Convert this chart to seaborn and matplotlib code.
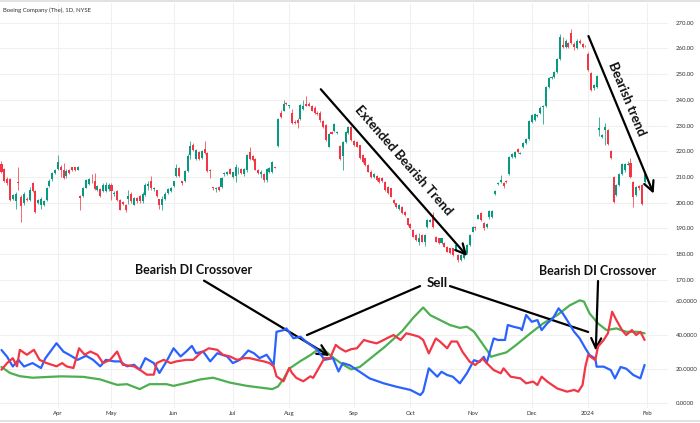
import numpy as np
import pandas as pd
import matplotlib
matplotlib.use("Agg")
import matplotlib.pyplot as plt
from matplotlib.lines import Line2D
import seaborn as sns

# ---------------- data ----------------
title = "Boeing Company (The), 1D, NYSE"
start_date, end_date = "2023-03-06", "2024-02-01"
market_holidays = ["2023-04-07", "2023-05-29", "2023-06-19", "2023-07-04", "2023-09-04",
                   "2023-11-23", "2023-12-25", "2024-01-01", "2024-01-15"]
month_labels = ["Apr", "May", "Jun", "Jul", "Aug", "Sep", "Oct", "Nov", "Dec", "2024", "Feb"]

opens = [215, 213, 209, 209, 201.5, 200.5, 208, 202, 200, 201.5, 201, 207.5, 204.5, 200, 199, 199, 201, 206.5, 209, 211.5,
         213, 214, 212.6, 210.3, 212.5, 213.8, 213.8, 212.8, 202.7, 202.5, 205.7, 207.4, 208, 208.3, 204.8, 205.1, 204.5, 204.4, 205.1, 207,
         203.5, 204.4, 201.2, 200.2, 199.2, 201.4, 203.5, 199.2, 201.8, 202.7, 200.5, 203.1, 206.4, 208.3, 205.1, 204.8, 201.4, 199.2, 201.4, 203.8,
         204.4, 206.6, 210.3, 213.5, 208.3, 208.3, 212.2, 218.5, 222.6, 217, 219.6, 217.3, 220.9, 219.4, 212.6, 205.8, 205.3, 206, 206, 211,
         211, 213.1, 210, 210.5, 212.5, 213, 211, 212.5, 219.6, 218.3, 217, 212.5, 211, 211.2, 208.6, 211.8, 211.8, 213.8, 222, 235,
         235.8, 238.7, 237.5, 234.8, 231.5, 232.3, 232.6, 236.5, 238.4, 238.4, 237.7, 237, 235, 235, 231.6, 230, 221.8, 227.4, 227.8, 227,
         222.2, 218.3, 223.5, 227, 229.4, 223.8, 223.6, 222.3, 218.4, 217.2, 214.6, 212, 209.8, 210.3, 209.4, 209.7, 208.1, 206.2, 205.5, 201,
         199.7, 197.4, 198.4, 196.5, 193.9, 191.7, 189.3, 187.4, 184.8, 187.4, 184.8, 190.4, 192.6, 195.2, 186.8, 186.1, 184.2, 184.2, 182.9, 182.2,
         182.2, 181.6, 179.6, 177.7, 178.4, 180.3, 183.5, 188.7, 190.4, 193.8, 196, 192, 190.6, 194.4, 194.4, 203.2, 207.3, 208, 207.6, 208.4,
         211, 217.8, 217.8, 221, 219.1, 221.7, 223.2, 224.9, 231.4, 232, 233.8, 234.7, 237.3, 237.5, 245, 248.3, 249, 250.9, 256, 261.5,
         260.6, 262, 266, 261.9, 260, 263, 261.7, 261, 258, 250.3, 244.4, 245, 228.2, 225.6, 228.2, 228.2, 220.1, 210, 203, 206.8,
         211.3, 212.5, 214.8, 215.5, 208, 203, 206.5, 206.8, 208]
highs = [216, 213.5, 210, 209.5, 203.5, 204, 214, 203, 204, 202, 206, 208, 205, 201.5, 202, 201, 206, 209, 212, 213,
         218.5, 214.5, 215.5, 213, 213, 214, 214, 214.2, 203, 206, 209, 209.5, 211, 211.5, 207, 205.5, 207.5, 208, 207.5, 207.5,
         204.5, 205, 201.5, 200.5, 199.5, 204.8, 204, 202, 202, 203, 204, 207.5, 208.5, 210.5, 206, 205, 201.5, 202.5, 204, 205.5,
         206, 208.5, 215, 214, 208.5, 212.5, 219, 223.9, 223, 221, 220, 220.5, 223.9, 219.5, 213, 206, 206, 206.5, 210, 212,
         212.2, 213.5, 212, 215, 214, 213.5, 213.5, 219, 221.5, 218.5, 217.5, 213, 212.5, 211.5, 213.5, 214, 216, 214, 233, 236,
         240, 239, 238, 236.5, 232, 233, 238.5, 240, 241.3, 239, 238, 237.5, 235.5, 235.5, 232, 230.5, 227, 228, 231, 228,
         222.5, 224, 228, 229.8, 230, 224.4, 224, 222.5, 218.8, 217.5, 215, 212.5, 211.6, 210.6, 209.8, 210, 208.4, 206.5, 205.8, 201.3,
         200, 199.3, 198.7, 196.8, 194.2, 192, 189.6, 187.7, 188, 187.7, 187.7, 193.5, 193.5, 196.5, 187.1, 186.4, 186.4, 184.5, 183.2, 182.5,
         182.5, 183.8, 179.9, 180, 180.6, 183.8, 187.7, 191, 191, 195.5, 196.3, 192.3, 192, 197, 197.2, 205, 208, 210.6, 208, 208.6,
         218, 219.3, 220, 221.4, 219.6, 223.6, 225.3, 232.2, 234.4, 234.8, 234.5, 237.5, 238, 245.4, 248.7, 249.2, 251.3, 256.4, 265.5, 264.5,
         263.8, 262.5, 267.7, 262.3, 263.5, 263.5, 262, 261.3, 258.5, 250.7, 246, 249.6, 233.5, 226.5, 231.1, 228.6, 220.5, 210.4, 207.2, 211.7,
         215.3, 215.4, 216, 217.5, 208.4, 206.5, 206.9, 207.2, 211.4]
lows = [211.5, 208, 207, 200.5, 201, 197.5, 205, 192.5, 199, 200.5, 200.5, 204, 196, 199.5, 197.5, 198.5, 200.5, 206, 208.5, 211,
        212.5, 210, 209, 209.5, 211, 212.3, 212.3, 212.5, 197.3, 202, 205.5, 207, 207.5, 204.8, 204.5, 202, 204, 204, 204.5, 201,
        202.5, 200.5, 197, 199, 196.5, 199.6, 200, 199, 200, 200, 200, 202.5, 205, 205, 204.5, 202, 197.5, 197.3, 201, 203.5,
        204, 206, 210, 210, 207, 208, 212, 217, 220, 216.5, 216.5, 217, 219, 212, 209.6, 205, 204, 204.5, 205.5, 210.5,
        210.8, 211, 209.7, 208, 211, 211, 210.5, 212, 216.5, 216, 212.5, 211, 209.5, 208, 208, 211.5, 211.5, 213.4, 221.8, 233,
        235.5, 238, 237, 230.5, 230.5, 229, 232, 236, 237.5, 237.5, 235.5, 234.5, 234, 231.5, 229, 224, 221.5, 226.5, 227.5, 226.5,
        216.5, 212.5, 223, 226.8, 224, 222, 221.5, 217, 215.5, 214.3, 211.8, 209.5, 209.5, 208.3, 207.8, 208.2, 204.6, 203.3, 202, 199.4,
        198, 197, 195.5, 194.9, 191, 189.7, 186.5, 185.2, 183.5, 184.5, 183.1, 190, 192.3, 190.3, 184.5, 183.9, 183.9, 182.6, 180.6, 180,
        179.3, 181.3, 177, 177.4, 178.1, 180, 183.2, 188.4, 189.5, 193.5, 192.8, 189.5, 190.3, 193.7, 194, 202.9, 207, 207.8, 205.5, 207.8,
        210.7, 217.4, 217.3, 219.2, 218.8, 221.3, 222.8, 224.5, 231, 231.6, 233.5, 234.3, 230.5, 237.1, 244.6, 247.9, 248.6, 250.5, 255.6, 260.2,
        260.3, 260.2, 261.6, 259.5, 259.6, 261.6, 260.2, 260.5, 251.2, 243.4, 244, 244.6, 226, 225.2, 222.6, 222.3, 217.1, 199.9, 202.6, 206.4,
        210.9, 212.1, 214.5, 209.6, 198.3, 202.6, 205, 199.2, 207.6]
closes = [212, 208.5, 207.5, 201, 203, 203.5, 207.8, 198.5, 203.5, 201, 205, 204.5, 196.5, 201, 201.5, 200.5, 205.5, 208.5, 211.5, 212.5,
          215.7, 212.8, 209.6, 212.2, 211.6, 212.6, 212.6, 213.9, 201.8, 205.7, 208.7, 209, 207.9, 205.1, 206.4, 202.5, 207, 207, 207, 204.4,
          203.8, 201.2, 197.3, 199.6, 197, 202.7, 200.5, 201.8, 200.5, 200.5, 203.5, 207, 207.4, 205.7, 205.7, 202.5, 199.2, 201.4, 203.5, 205.1,
          205.7, 208.3, 213.5, 210.3, 207.7, 212.2, 218.3, 222, 220.6, 220.6, 217, 220, 219.4, 212.3, 212.4, 205.6, 205.7, 204.8, 209.6, 211.6,
          211.9, 211.3, 211.8, 213.8, 212.5, 211.5, 213.2, 218.7, 217, 216.4, 212.7, 211.5, 211.8, 208.6, 213.2, 213.5, 215.7, 213.6, 232.6, 233.5,
          238.4, 238.5, 237.7, 231, 230.8, 230.8, 238, 237.7, 237.7, 237.7, 235.8, 235, 234.4, 232, 229.6, 224.4, 226.8, 226.8, 230.4, 227.5,
          217, 223.5, 227.4, 229.4, 224.2, 222.3, 221.7, 217.2, 215.9, 214.6, 212, 210, 211.3, 208.7, 208.1, 208.5, 204.9, 203.6, 202.3, 199.7,
          198.4, 199, 195.8, 195.2, 191.3, 190, 186.8, 185.5, 186.1, 184.8, 187.4, 193.2, 193.2, 190.6, 184.8, 184.2, 186.1, 182.9, 180.9, 180.3,
          179.6, 183.5, 177.7, 179.6, 180.3, 183.5, 187.4, 190.4, 190.2, 195.1, 193.1, 190, 191.5, 196.6, 196.8, 204.5, 207.8, 208.6, 206.4, 208.1,
          217.8, 219, 219.6, 219.6, 219.3, 223.2, 224.9, 231.8, 234, 234.4, 234.2, 237, 237.6, 245, 248.3, 248.8, 250.9, 256, 264.5, 260.6,
          262.7, 260.6, 262, 260.6, 263, 262, 260.6, 260.8, 251.6, 243.8, 245.7, 249.2, 229.2, 226.2, 229.5, 222.7, 217.5, 200.3, 206.8, 211.3,
          214.9, 215, 214.9, 210, 202.2, 206.2, 205.5, 199.6, 211]

# DMI readings: trading-day index and value
plus_di_day = [0, 2, 4, 6, 8, 11, 14, 15.5, 19.5, 22, 24, 27, 30, 32.5, 35, 37, 40, 42, 44.5, 47, 49, 51, 54, 56, 58.5,
               61, 63.5, 65.5, 67.5, 69, 71.5, 74, 76.5, 80, 82, 84.5, 87.5, 89.5, 91.5, 94, 96.5, 97.5, 100, 101, 103.5,
               106, 108, 112, 114.5, 117.5, 119.5, 121, 123.5, 127, 130.5, 135.5, 140, 145, 148.5, 149.5, 151.5, 154.5, 156,
               158, 160, 162.5, 165, 167.5, 169.5, 171, 172, 174.5, 176, 178.5, 179.5, 181.5, 184, 184.5, 186, 188, 190,
               191.5, 193.5, 195.5, 197.5, 199, 200.5, 203, 205, 207, 208.5, 210.5, 211, 213.5, 216, 217.5, 219.5, 221.5,
               224, 226.5, 228]
plus_di = [31, 27, 21.3, 25.2, 21.3, 23.3, 20.4, 26, 35, 30, 28.2, 25.2, 27.6, 25.2, 21.4, 25.2, 24.3, 24.3, 21.4, 22.3, 19.4, 26.2, 23.3, 17.5, 24.3,
           32, 27.2, 30.1, 33.4, 29.1, 30.1, 24.3, 29.1, 27.2, 23.3, 25.2, 30.7, 29.1, 26.2, 28.2, 22.3, 41.7, 42.7, 43.7, 37.9,
           38.8, 35.9, 31.1, 25.2, 26.2, 18.4, 23.3, 22, 18.2, 14.3, 11.4, 9.4, 7.5, 4.5, 6.5, 20.2, 15.3, 18.2,
           16.3, 15.3, 11.4, 17.3, 25, 24, 27, 23.3, 37.8, 36.9, 36.9, 45.7, 44.7, 43.7, 42.7, 51.6, 47.6, 48.6,
           42.7, 46.7, 49.6, 55.5, 52.5, 48.6, 41.8, 37.8, 32, 28, 26, 21.2, 21.2, 19.2, 14.3, 21, 20,
           16.3, 14.3, 22.2]
minus_di_day = [0, 2, 4, 5.5, 6.5, 9, 11.5, 13.5, 16, 19.5, 21.5, 23, 25.5, 27.5, 29.5, 31.5, 34, 36, 38.5, 41, 43, 47, 49,
                51.5, 54, 55, 57.5, 60, 62, 65.5, 68, 70.5, 73.5, 76.5, 78.5, 81, 83.5, 86, 88, 90.5, 93, 95, 96.5, 97.5,
                100, 102, 103, 104.5, 107, 109.5, 110.5, 112.5, 114.5, 116.5, 118.5, 120, 122, 124, 126, 128.5, 130.5, 133,
                135.5, 136.5, 139, 141.5, 143.5, 146, 148, 149.5, 151.5, 154, 155.5, 158, 159.5, 161.5, 163.5, 166, 168,
                170.5, 172, 174.5, 177, 178, 180.5, 184, 186, 188.5, 190, 191.5, 193.5, 197, 200.5, 203, 204.5, 206, 207,
                208, 210.5, 211.5, 213.5, 215, 216.5, 218, 220, 221.5, 223.5, 225, 226.5, 228]
minus_di = [19.4, 23.3, 26.2, 21.4, 31.1, 28.2, 31.1, 25.2, 23.3, 21.4, 23.3, 21.4, 20.4, 32, 28.2, 30.1, 28.2, 23.3, 25.2, 30.1, 22.3, 21.4, 19.4,
            16.5, 16.5, 23.3, 25.2, 23.3, 24.3, 25.2, 25.2, 29.1, 32, 31.1, 28.2, 27.2, 25.2, 26.2, 26.2, 25.2, 24.3, 23.3, 21.4, 15.5,
            12.6, 20.4, 17.5, 14.6, 12.6, 15.5, 14.6, 20.4, 26.2, 26.2, 34, 32, 30.1, 31.5, 32, 36.9, 35.9, 34.9,
            36.9, 37.8, 39.8, 36.9, 40.8, 39.8, 38.8, 36.9, 29, 37.8, 35.9, 32, 36, 36, 29.8, 24.1, 22.2,
            26, 23.3, 19.2, 17.3, 20.2, 15.3, 14.3, 11.4, 12.4, 10.4, 15.3, 12.4, 8.4, 6.5, 7.5, 6.5, 10.4, 21.2,
            28, 25.1, 33, 36.9, 40.8, 53.5, 48.6, 42.7, 39.8, 42.7, 39.8, 41.7, 36.9]
adx_day = [0, 3, 6.5, 11, 17, 21, 29, 35, 38.5, 41, 44.5, 49, 52.5, 58.5, 61, 66, 70.5, 75, 81, 87, 96, 98, 100, 102,
           106, 109.5, 112, 114, 118, 121, 124, 127, 130, 136, 142, 146, 149.5, 152, 155.5, 159, 162.5, 165, 167.5,
           170, 172.5, 173.5, 175.5, 179, 182.5, 187.5, 192, 197, 201.5, 205, 206.5, 208.5, 211.5, 214.5, 218, 221.5,
           225.5, 228]
adx = [21, 17.5, 15.6, 14.7, 15.2, 15.5, 15.2, 13.7, 11.8, 10.5, 10.9, 8, 10.9, 10.9, 9.9, 11.8, 13.7, 14.7, 11.8, 9.9, 8, 9.5, 14, 20,
       24.5, 28, 31, 31.5, 26, 22.5, 19.6, 21, 25, 33, 42, 50, 56, 51.5, 48.6, 45.7, 44, 44.7, 41.8,
       35.9, 30, 27, 28, 29.6, 34, 40.8, 46.6, 51.5, 57.3, 60.2, 59.5, 52.5, 46.6, 42.7, 43.7, 41.7,
       41.7, 40.8]

# ---------------- style ----------------
sns.set_theme(style="white")
plt.rcParams["font.family"] = ["Lato", "DejaVu Sans"]

W, H = 700, 423
fig = plt.figure(figsize=(W / 100, H / 100), dpi=100)
fig.patch.set_facecolor("white")

def fx(px):
    return px / W

def fy(py):
    return 1 - py / H

ax_p = fig.add_axes([0, fy(290), fx(668), (290 - 3) / H])
ax_d = fig.add_axes([0, fy(408), fx(668), (408 - 290) / H])

# x positions (trading-day index) and month ticks
dates = pd.bdate_range(start_date, end_date)
dates = dates[~dates.isin(pd.to_datetime(market_holidays))]
month_change = np.where(dates.month[1:] != dates.month[:-1])[0] + 1
xt = list(month_change)
n = len(closes)
x = np.arange(n)

UP, DOWN = "#089981", "#F23645"
o = np.array(opens); c = np.array(closes); hi = np.array(highs); lo = np.array(lows)
col = np.where(c >= o, UP, DOWN)
ax_p.vlines(x, lo, hi, colors=col, linewidth=0.7, alpha=0.75, zorder=2)
body = np.maximum(np.abs(c - o), 0.3)
ax_p.bar(x, body, bottom=np.minimum(o, c), width=0.72, color=col, linewidth=0, zorder=3)

# DMI lines
sns.lineplot(x=adx_day, y=adx, ax=ax_d, color="#4CAF50", linewidth=1.6, zorder=3)
sns.lineplot(x=plus_di_day, y=plus_di, ax=ax_d, color="#2962FF", linewidth=1.6, zorder=4)
sns.lineplot(x=minus_di_day, y=minus_di, ax=ax_d, color="#F23645", linewidth=1.6, zorder=5)

xlim = (-0.53, 236.3)
grid_c = "#f0f0f0"
for ax in (ax_p, ax_d):
    ax.set_xlim(*xlim)
    ax.set_facecolor("white")
    for s in ax.spines.values():
        s.set_visible(False)
    ax.set_xticks(xt)
    ax.grid(True, color=grid_c, linewidth=0.8)
    ax.set_axisbelow(True)
    ax.yaxis.tick_right()
    ax.tick_params(axis="both", length=0, labelsize=4.3, labelcolor="#333333", pad=5.8)
    ax.set_xlabel("")
    ax.set_ylabel("")

ax_p.set_ylim(270 - (290 - 22.7) / 2.57, 270 + (22.7 - 3) / 2.57)
ax_p.set_yticks(np.arange(170, 271, 10))
ax_p.set_yticklabels([f"{v:.2f}" for v in np.arange(170, 271, 10)])
ax_p.set_xticklabels([])

ax_d.set_ylim((402.7 - 408) / 1.7, (402.7 - 290) / 1.7)
ax_d.set_yticks([0, 20, 40, 60])
ax_d.set_yticklabels([f"{v:.4f}" for v in [0, 20, 40, 60]])
ax_d.set_xticklabels(month_labels)
ax_d.tick_params(axis="x", pad=2.5)

fig.text(fx(3), fy(10), title, fontsize=4.3, color="#333333", va="center", ha="left")
fig.add_artist(Line2D([0, 1], [fy(1.5), fy(1.5)], color="#dddddd", linewidth=1.2))
fig.add_artist(Line2D([0, 1], [fy(421), fy(421)], color="#dddddd", linewidth=1.2))

arrow = dict(arrowstyle="->,head_length=0.6,head_width=0.3", color="black", lw=1.6,
             shrinkA=0, shrinkB=0, mutation_scale=12)
line = dict(arrowstyle="-", color="black", lw=1.6, shrinkA=0, shrinkB=0)

# price panel annotations
ax_p.annotate("", xy=(165.1, 179.2), xytext=(113.2, 244.1), arrowprops=arrow)
ax_p.text(142.4, 216.6, "Extended Bearish Trend", rotation=-48.8, rotation_mode="anchor",
          ha="center", va="center", fontsize=9.5, fontweight="bold", color="#111111")
ax_p.annotate("", xy=(231.2, 203.5), xytext=(208.1, 264.8), arrowprops=arrow, annotation_clip=False)
ax_p.text(221.6, 240.2, "Bearish trend", rotation=-67.5, rotation_mode="anchor",
          ha="center", va="center", fontsize=9.5, fontweight="bold", color="#111111")

# DMI panel annotations
ax_d.annotate("", xy=(116.3, 27.5), xytext=(71.8, 71.8), arrowprops=arrow, annotation_clip=False)
ax_d.annotate("", xy=(210.7, 30.6), xytext=(211.5, 71.6), arrowprops=arrow, annotation_clip=False)
ax_d.annotate("", xy=(108.3, 39.8), xytext=(148.4, 68.6), arrowprops=line, annotation_clip=False)
ax_d.annotate("", xy=(208.0, 41.6), xytext=(159.0, 68.6), arrowprops=line, annotation_clip=False)

fig.text(fx(193.5), fy(270.5), "Bearish DI Crossover", fontsize=9, fontweight="bold",
         ha="center", va="center", color="#111111")
fig.text(fx(598), fy(271), "Bearish DI Crossover", fontsize=9, fontweight="bold",
         ha="center", va="center", color="#111111")
fig.text(fx(437), fy(283), "Sell", fontsize=9.5, fontweight="bold",
         ha="center", va="center", color="#111111")

fig.savefig("out.png", dpi=100, facecolor="white")
